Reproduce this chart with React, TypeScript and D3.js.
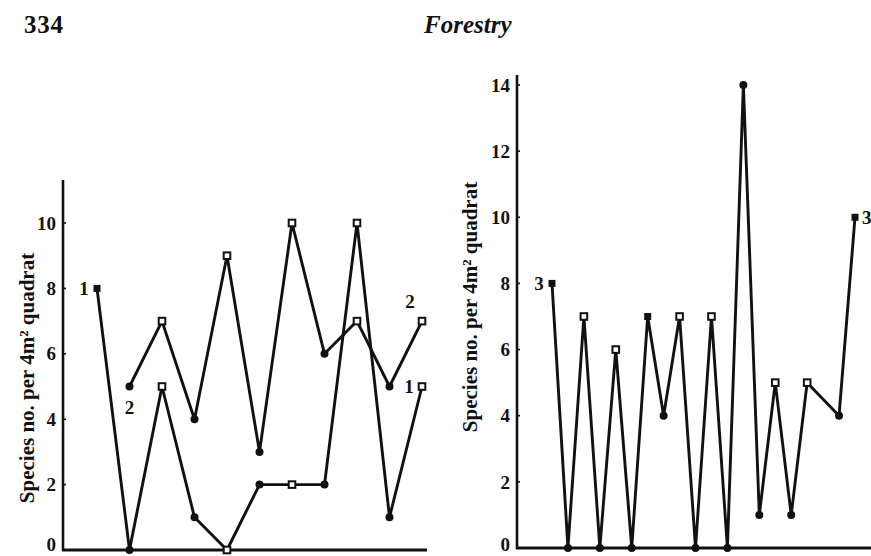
import React from "react";
import * as d3 from "d3";

// Left panel: sites 0..10, two series
const sitesLeft = [0, 1, 2, 3, 4, 5, 6, 7, 8, 9, 10];
const series1 = [8, 0, 5, 1, 0, 2, 2, 2, 10, 1, 5];
const series2 = [null, 5, 7, 4, 9, 3, 10, 6, 7, 5, 7];
const marks1 = ["end", "dot", "open", "dot", "open", "dot", "open", "dot", "open", "dot", "open"];
const marks2 = ["", "dot", "open", "dot", "open", "dot", "open", "dot", "open", "dot", "open"];
const ticksLeft = [0, 2, 4, 6, 8, 10];

// Right panel: series 3 (site 17 has no reading)
const sitesRight = [0, 1, 2, 3, 4, 5, 6, 7, 8, 9, 10, 11, 12, 13, 14, 15, 16, 18, 19];
const series3 = [8, 0, 7, 0, 6, 0, 7, 4, 7, 0, 7, 0, 14, 1, 5, 1, 5, 4, 10];
const marks3 = ["end", "dot", "open", "dot", "open", "dot", "end", "dot", "open", "dot", "open", "dot", "dot", "dot", "open", "dot", "open", "dot", "end"];
const ticksRight = [0, 2, 4, 6, 8, 10, 12, 14];

const yTitle = "Species no. per 4m² quadrat";
const font = "'Liberation Serif', 'DejaVu Serif', serif";

type Pt = { x: number; y: number; m: string };

function Marker({ p }: { p: Pt }) {
  if (p.m === "dot") return <circle cx={p.x} cy={p.y} r={4} fill="#111" />;
  if (p.m === "end") return <rect x={p.x - 3.5} y={p.y - 3.5} width={7} height={7} fill="#111" />;
  return <rect x={p.x - 3.3} y={p.y - 3.3} width={6.6} height={6.6} fill="#fff" stroke="#111" strokeWidth={2} />;
}

function Series({ pts }: { pts: Pt[] }) {
  const line = d3.line<Pt>().x((d) => d.x).y((d) => d.y);
  return (
    <g>
      <path d={line(pts) || ""} fill="none" stroke="#111" strokeWidth={2.9} strokeLinejoin="round" />
      {pts.map((p, i) => <Marker key={i} p={p} />)}
    </g>
  );
}

function YAxis({ x, y, ticks, top, bottom, xEnd }: { x: number; y: d3.ScaleLinear<number, number>; ticks: number[]; top: number; bottom: number; xEnd: number }) {
  return (
    <g fontFamily={font} fontWeight="bold" fontSize={19} fill="#111">
      <line x1={x} x2={x} y1={top} y2={bottom + 1} stroke="#111" strokeWidth={2.6} />
      <line x1={x - 1} x2={xEnd} y1={bottom} y2={bottom} stroke="#111" strokeWidth={2.8} />
      {ticks.map((t) => (
        <g key={t}>
          <line x1={x} x2={x + 3} y1={y(t)} y2={y(t)} stroke="#111" strokeWidth={1.6} />
          <text x={x - 7} y={t === 0 ? 551 : y(t)} dy={t === 0 ? 0 : "0.35em"} textAnchor="end">{t}</text>
        </g>
      ))}
    </g>
  );
}

export default function App() {
  const xL = d3.scaleLinear().domain([0, 10]).range([97, 422]);
  const yL = d3.scaleLinear().domain([0, 10]).range([550, 223]);
  const xR = d3.scaleLinear().domain([0, 19]).range([552, 855]);
  const yR = d3.scaleLinear().domain([0, 14]).range([548, 85]);

  const pts1: Pt[] = sitesLeft.map((s, i) => ({ x: xL(s), y: yL(series1[i]), m: marks1[i] }));
  const pts2: Pt[] = sitesLeft
    .map((s, i) => ({ x: xL(s), y: series2[i] == null ? NaN : yL(series2[i] as number), m: marks2[i] }))
    .filter((p) => !isNaN(p.y));
  const pts3: Pt[] = sitesRight.map((s, i) => ({ x: xR(s), y: yR(series3[i]), m: marks3[i] }));

  const lbl = { fontFamily: font, fontWeight: "bold" as const, fontSize: 19, fill: "#111" };
  const ttl = { fontFamily: font, fontWeight: "bold" as const, fontSize: 21, fill: "#111" };

  return (
    <div style={{ position: "absolute", left: 0, top: 0 }}>
      <svg width={871} height={556} style={{ display: "block", background: "#fff" }}>
        <text x={24} y={33} fontFamily={font} fontWeight="bold" fontSize={25} fill="#111" textLength={39}>334</text>
        <text x={424} y={33} fontFamily={font} fontWeight="bold" fontStyle="italic" fontSize={25} fill="#111">Forestry</text>

        {/* left panel */}
        <YAxis x={63} y={yL} ticks={ticksLeft} top={180} bottom={550} xEnd={427} />
        <text transform="translate(34,378) rotate(-90)" textAnchor="middle" {...ttl}>{yTitle}</text>
        <Series pts={pts1} />
        <Series pts={pts2} />
        <text x={xL(0) - 13} y={yL(8)} dy="0.35em" textAnchor="middle" {...lbl}>1</text>
        <text x={xL(1)} y={yL(5) + 21} dy="0.35em" textAnchor="middle" {...lbl}>2</text>
        <text x={xL(10) - 12} y={yL(7) - 20} dy="0.35em" textAnchor="middle" {...lbl}>2</text>
        <text x={xL(10) - 13} y={yL(5)} dy="0.35em" textAnchor="middle" {...lbl}>1</text>

        {/* right panel */}
        <YAxis x={517} y={yR} ticks={ticksRight} top={75} bottom={548} xEnd={871} />
        <text transform="translate(477,307) rotate(-90)" textAnchor="middle" {...ttl}>{yTitle}</text>
        <Series pts={pts3} />
        <text x={xR(0) - 13} y={yR(8)} dy="0.35em" textAnchor="middle" {...lbl}>3</text>
        <text x={xR(19) + 7} y={yR(10)} dy="0.35em" textAnchor="start" {...lbl}>3</text>
      </svg>
    </div>
  );
}
